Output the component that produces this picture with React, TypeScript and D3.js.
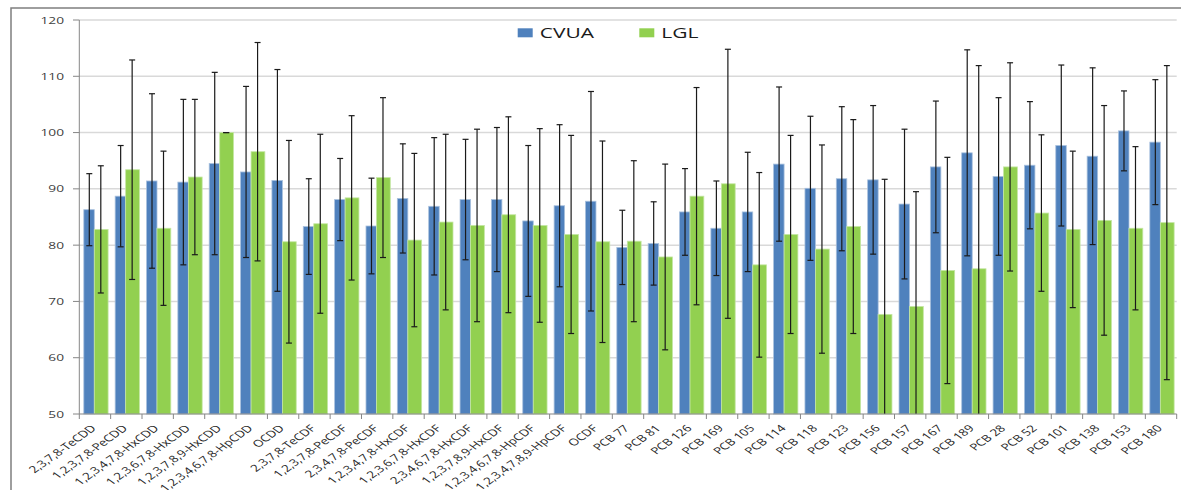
import React from 'react';
import { scaleBand, scaleLinear, range } from 'd3';

// categories (congeners)
const categories = [
  '2,3,7,8-TeCDD', '1,2,3,7,8-PeCDD', '1,2,3,4,7,8-HxCDD', '1,2,3,6,7,8-HxCDD',
  '1,2,3,7,8,9-HxCDD', '1,2,3,4,6,7,8-HpCDD', 'OCDD', '2,3,7,8-TeCDF',
  '1,2,3,7,8-PeCDF', '2,3,4,7,8-PeCDF', '1,2,3,4,7,8-HxCDF', '1,2,3,6,7,8-HxCDF',
  '2,3,4,6,7,8-HxCDF', '1,2,3,7,8,9-HxCDF', '1,2,3,4,6,7,8-HpCDF', '1,2,3,4,7,8,9-HpCDF',
  'OCDF', 'PCB 77', 'PCB 81', 'PCB 126', 'PCB 169', 'PCB 105', 'PCB 114', 'PCB 118',
  'PCB 123', 'PCB 156', 'PCB 157', 'PCB 167', 'PCB 189', 'PCB 28', 'PCB 52',
  'PCB 101', 'PCB 138', 'PCB 153', 'PCB 180',
];

// CVUA values and error (+/-)
const cvua = [
  86.3, 88.7, 91.4, 91.2, 94.5, 93.0, 91.5, 83.3, 88.1, 83.4, 88.3, 86.9,
  88.1, 88.1, 84.3, 87.0, 87.8, 79.6, 80.3, 85.9, 83.0, 85.9, 94.4, 90.1,
  91.8, 91.6, 87.3, 93.9, 96.4, 92.2, 94.2, 97.7, 95.8, 100.3, 98.3,
];
const cvuaErr = [
  6.4, 9.0, 15.5, 14.7, 16.2, 15.2, 19.7, 8.5, 7.3, 8.5, 9.7, 12.2,
  10.7, 12.8, 13.4, 14.4, 19.5, 6.6, 7.4, 7.7, 8.4, 10.6, 13.7, 12.8,
  12.8, 13.2, 13.3, 11.7, 18.3, 14.0, 11.3, 14.3, 15.7, 7.1, 11.1,
];

// LGL values and error (+/-)
const lgl = [
  82.8, 93.4, 83.0, 92.1, 100.0, 96.6, 80.6, 83.8, 88.4, 92.0, 80.9, 84.1,
  83.5, 85.4, 83.5, 81.9, 80.6, 80.7, 77.9, 88.7, 90.9, 76.5, 81.9, 79.3,
  83.3, 67.7, 69.1, 75.5, 75.8, 93.9, 85.7, 82.8, 84.4, 83.0, 84.0,
];
const lglErr = [
  11.3, 19.5, 13.7, 13.8, 0, 19.4, 18.0, 15.9, 14.6, 14.2, 15.4, 15.6,
  17.1, 17.4, 17.2, 17.6, 17.9, 14.3, 16.5, 19.3, 23.9, 16.4, 17.6, 18.5,
  19.0, 24.0, 20.4, 20.1, 36.1, 18.5, 13.9, 13.9, 20.4, 14.5, 27.9,
];

const yTicks = range(50, 121, 10);

const W = 1181;
const H = 490;
const blue = '#4f81bd';
const green = '#92d050';
// the picture is stretched sideways, so text gets the same stretch
const SX = 1.4;

export default function App() {
  const x = scaleBand<string>().domain(categories).range([79.3, 1176.7]);
  const y = scaleLinear().domain([50, 120]).range([414, 20]);
  const bw = x.bandwidth();

  const series = [
    { name: 'CVUA', values: cvua, err: cvuaErr, color: blue, stroke: '#a9c1de', off: 4.5, w: 10.5, ec: 10.0 },
    { name: 'LGL', values: lgl, err: lglErr, color: green, stroke: '#c4e6a3', off: 15.0, w: 13.8, ec: 21.5 },
  ];

  const clampY = (v: number) => y(Math.max(50, Math.min(120, v)));

  return (
    <svg width={W} height={H} style={{ position: 'absolute', left: 0, top: 0, fontFamily: 'Open Sans, sans-serif' }}>
      <rect x={0} y={0} width={W} height={H} fill="#fff" />
      {/* outer frame */}
      <path d={`M11,${H} V8 H${W}`} fill="none" stroke="#7f7f7f" strokeWidth={1.5} />

      {/* gridlines */}
      {yTicks.filter(t => t > 50).map(t => (
        <line key={t} x1={79.3} x2={1176.7} y1={y(t)} y2={y(t)} stroke="#d9d9d9" strokeWidth={1.5} />
      ))}

      {/* y axis */}
      <line x1={79.3} x2={79.3} y1={y(120)} y2={y(50)} stroke="#868686" strokeWidth={1} />
      {yTicks.map(t => (
        <g key={t}>
          <line x1={73} x2={79.3} y1={y(t)} y2={y(t)} stroke="#868686" />
          <text transform={`translate(64,${y(t)}) scale(${SX},1)`} dy="0.36em" textAnchor="end" fontSize={9.8} fill="#404040">{t}</text>
        </g>
      ))}

      {/* bars */}
      {series.map(s => (
        <g key={s.name}>
          {categories.map((c, i) => (
            <rect
              key={c}
              x={(x(c) as number) + s.off}
              y={y(s.values[i])}
              width={s.w}
              height={y(50) - y(s.values[i])}
              fill={s.color}
              stroke={s.stroke}
              strokeWidth={0.8}
            />
          ))}
        </g>
      ))}

      {/* error bars */}
      {series.map(s => (
        <g key={s.name + '-err'} stroke="#1a1a1a" strokeWidth={1.2}>
          {categories.map((c, i) => {
            const cx = (x(c) as number) + s.ec;
            const hi = s.values[i] + s.err[i];
            const lo = s.values[i] - s.err[i];
            return (
              <g key={c}>
                <line x1={cx} x2={cx} y1={clampY(hi)} y2={clampY(lo)} />
                <line x1={cx - 3} x2={cx + 3} y1={y(hi)} y2={y(hi)} />
                {lo >= 50 && <line x1={cx - 3} x2={cx + 3} y1={y(lo)} y2={y(lo)} />}
              </g>
            );
          })}
        </g>
      ))}

      {/* x axis */}
      <line x1={79.3} x2={1176.7} y1={y(50)} y2={y(50)} stroke="#868686" strokeWidth={1.2} />
      {categories.map(c => (
        <line key={c} x1={x(c) as number} x2={x(c) as number} y1={y(50)} y2={y(50) + 5} stroke="#868686" />
      ))}
      <line x1={1176.7} x2={1176.7} y1={y(50)} y2={y(50) + 5} stroke="#868686" />
      {categories.map(c => {
        const cx = (x(c) as number) + bw / 2 + 2;
        return (
          <text
            key={c}
            transform={`translate(${cx},${y(50) + 15}) scale(${SX},1) rotate(-45)`}
            textAnchor="end"
            fontSize={9.6}
            fill="#262626"
          >
            {c}
          </text>
        );
      })}

      {/* legend */}
      {series.map((s, i) => {
        const lx = i === 0 ? 517.7 : 639.3;
        return (
          <g key={s.name + '-leg'}>
            <rect x={lx} y={28.3} width={15} height={9} fill={s.color} />
            <text
              transform={`translate(${lx + 22},38) scale(${SX},1)`}
              fontSize={15}
              fill="#1a1a1a"
            >
              {s.name}
            </text>
          </g>
        );
      })}
    </svg>
  );
}
